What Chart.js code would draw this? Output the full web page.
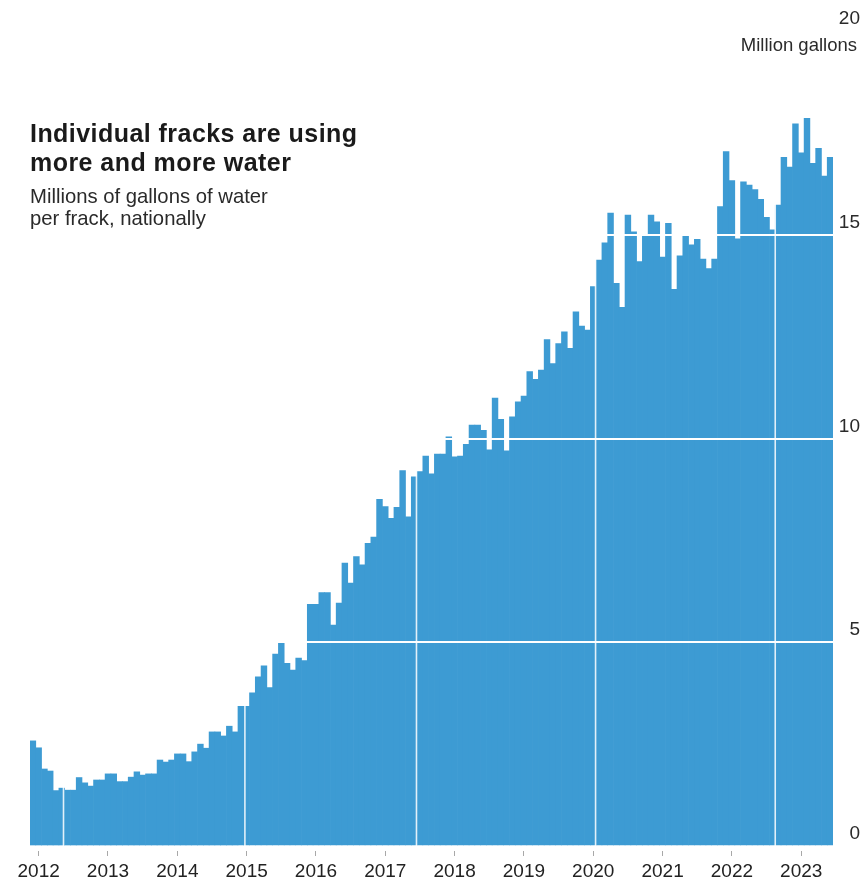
<!DOCTYPE html>
<html>
<head>
<meta charset="utf-8">
<script src="https://cdn.jsdelivr.net/npm/chart.js@4.4.1/dist/chart.umd.min.js"></script>
<style>
  html, body { margin: 0; padding: 0; background: #fff; }
  #wrap { position: relative; width: 860px; height: 882px; }
  canvas { position: absolute; left: 0; top: 0; }
  .title { position: absolute; left: 30px; top: 119px; font-family: "Liberation Sans", Arial, sans-serif; font-weight: bold; font-size: 25px; line-height: 29.3px; color: #1a1a1a; letter-spacing: 0.45px; }
  .sub { position: absolute; left: 30px; top: 185px; font-family: "Liberation Sans", Arial, sans-serif; font-size: 20.3px; line-height: 22.4px; color: #2a2a2a; }
  .unit { position: absolute; right: 3px; top: 34px; font-family: "Liberation Sans", Arial, sans-serif; font-size: 18.5px; line-height: 22px; color: #2a2a2a; text-align: right; }
</style>
</head>
<body>
<div id="wrap">
  <canvas id="c" width="860" height="882"></canvas>
  <div class="title">Individual fracks are using<br>more and more water</div>
  <div class="sub">Millions of gallons of water<br>per frack, nationally</div>
  <div class="unit">Million gallons</div>
</div>
<script>
// ---- data (monthly, first bar = Dec 2011) ----
const firstYear = 2011;
const firstMonth = 12;
const waterPerFrack = [
  2.58,
  2.41, 1.89, 1.84, 1.36, 1.42, 1.37, 1.37, 1.68, 1.55, 1.47, 1.62, 1.62,
  1.77, 1.77, 1.58, 1.58, 1.69, 1.82, 1.74, 1.77, 1.77, 2.11, 2.06, 2.11,
  2.26, 2.26, 2.07, 2.31, 2.50, 2.40, 2.80, 2.80, 2.70, 2.94, 2.80, 3.43,
  3.43, 3.76, 4.15, 4.42, 3.89, 4.71, 5.01, 4.48, 4.32, 4.61, 4.55, 5.93,
  5.93, 6.22, 6.22, 5.42, 5.96, 6.94, 6.45, 7.10, 6.90, 7.43, 7.58, 8.51,
  8.33, 8.04, 8.31, 9.21, 8.08, 9.06, 9.19, 9.57, 9.13, 9.62, 9.62, 10.04,
  9.55, 9.57, 9.86, 10.33, 10.33, 10.20, 9.72, 10.99, 10.47, 9.70, 10.53, 10.90,
  11.04, 11.64, 11.45, 11.68, 12.43, 11.84, 12.33, 12.62, 12.21, 13.11, 12.76, 12.66,
  13.73, 14.38, 14.80, 15.53, 13.81, 13.22, 15.48, 15.07, 14.34, 14.97, 15.48, 15.32,
  14.45, 15.28, 13.66, 14.48, 14.97, 14.75, 14.89, 14.40, 14.17, 14.40, 15.69, 17.04,
  16.33, 14.90, 16.30, 16.22, 16.11, 15.87, 15.43, 15.12, 15.73, 16.90, 16.66, 17.72,
  17.01, 17.86, 16.75, 17.12, 16.44, 16.90
];
const yTickValues = [0, 5, 10, 15, 20];
const yGridValues = [5, 10, 15];
// light vertical rules seen through the bars (in month-index units)
const ruleMonths = [5.3, 36.7, 66.4, 97.4, 128.5];

// month categories built from the start month
const categories = waterPerFrack.map((_, i) => {
  const m0 = firstMonth - 1 + i;
  const y = firstYear + Math.floor(m0 / 12);
  const m = (m0 % 12) + 1;
  return y + '-' + String(m).padStart(2, '0');
});

const BAR = '#3d9bd3';
const FONT = '"Liberation Sans", Arial, sans-serif';

const rulesPlugin = {
  id: 'rules',
  afterDatasetsDraw(chart) {
    const { ctx, chartArea, scales } = chart;
    ctx.save();
    ctx.strokeStyle = 'rgba(255,255,255,0.85)';
    ctx.lineWidth = 1.6;
    ruleMonths.forEach(v => {
      const x = scales.x.getPixelForValue(v);
      ctx.beginPath();
      ctx.moveTo(x, chartArea.top);
      ctx.lineTo(x, chartArea.bottom);
      ctx.stroke();
    });
    ctx.restore();
  }
};

new Chart(document.getElementById('c'), {
  type: 'bar',
  data: {
    labels: categories,
    datasets: [{
      data: waterPerFrack,
      backgroundColor: BAR,
      borderWidth: 0,
      barPercentage: 1,
      categoryPercentage: 1
    }]
  },
  options: {
    responsive: false,
    animation: false,
    layout: { padding: { left: 30, top: 31, right: 0, bottom: 0 } },
    plugins: { legend: { display: false }, tooltip: { enabled: false } },
    scales: {
      x: {
        type: 'category',
        offset: true,
        border: { display: false },
        grid: {
          offset: false,
          drawOnChartArea: false,
          drawTicks: true,
          tickLength: 10,
          tickColor: '#a8a8a8',
          tickWidth: 1,
          tickBorderDash: [0, 5, 10]
        },
        afterBuildTicks(scale) {
          scale.ticks = scale.ticks.filter(t => categories[t.value].endsWith('-01'));
        },
        ticks: {
          autoSkip: false,
          maxRotation: 0,
          minRotation: 0,
          padding: 4,
          color: '#222',
          font: { family: FONT, size: 19 },
          callback(value) { return categories[value].slice(0, 4); }
        },
        afterFit(scale) { scale.height = 36; }
      },
      y: {
        position: 'right',
        min: 0,
        max: 20,
        border: { display: false },
        afterBuildTicks(scale) {
          scale.ticks = yTickValues.map(v => ({ value: v }));
        },
        grid: {
          z: 1,
          drawTicks: false,
          lineWidth: 2,
          color: ctx => (ctx.tick && yGridValues.includes(ctx.tick.value)) ? '#ffffff' : 'rgba(0,0,0,0)'
        },
        ticks: {
          padding: 3,
          crossAlign: 'far',
          labelOffset: -12,
          color: '#2a2a2a',
          font: { family: FONT, size: 19 }
        },
        afterFit(scale) { scale.width = 27; }
      }
    }
  },
  plugins: [rulesPlugin]
});
</script>
</body>
</html>
